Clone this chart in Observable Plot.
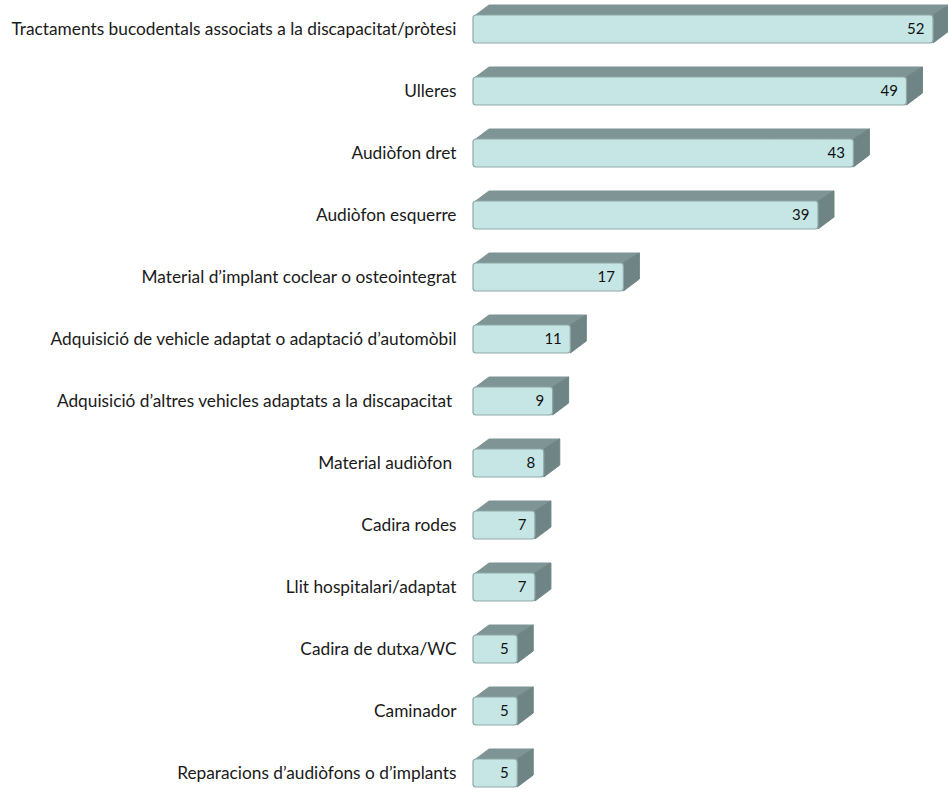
<!DOCTYPE html>
<html>
<head>
<meta charset="utf-8">
<script src="https://cdn.jsdelivr.net/npm/d3@7"></script>
<script src="https://cdn.jsdelivr.net/npm/@observablehq/plot@0.6"></script>
<style>
  html, body { margin: 0; padding: 0; background: #fff; }
  #chart svg { display: block; }
</style>
</head>
<body>
<div id="chart"></div>
<script>
const categories = [
  "Tractaments bucodentals associats a la discapacitat/pròtesi",
  "Ulleres",
  "Audiòfon dret",
  "Audiòfon esquerre",
  "Material d’implant coclear o osteointegrat",
  "Adquisició de vehicle adaptat o adaptació d’automòbil",
  "Adquisició d’altres vehicles adaptats a la discapacitat\u00a0",
  "Material audiòfon\u00a0",
  "Cadira rodes",
  "Llit hospitalari/adaptat",
  "Cadira de dutxa/WC",
  "Caminador",
  "Reparacions d’audiòfons o d’implants"
];
const values = [52, 49, 43, 39, 17, 11, 9, 8, 7, 7, 5, 5, 5];

const data = categories.map((c, i) => ({label: c, value: values[i]}));

const DX = 16, DY = -10;

function depthFaces(index, scales, vals, dimensions, context) {
  const x = scales.x, y = scales.y, bw = y.bandwidth ? y.bandwidth() : 28;
  const g = d3.create("svg:g");
  for (const d of data) {
    const x1 = x(0), x2 = x(d.value), y1 = y(d.label), y2 = y1 + bw;
    g.append("path")
      .attr("d", `M${x1},${y1 + 2}L${x1 + DX},${y1 + DY}L${x2 + DX},${y1 + DY}L${x2},${y1}Z`)
      .attr("fill", "#7f9494").attr("stroke", "#7f9494").attr("stroke-linejoin", "round");
    g.append("path")
      .attr("d", `M${x2},${y1}L${x2 + DX},${y1 + DY}L${x2 + DX},${y2 + DY - 2}L${x2},${y2}Z`)
      .attr("fill", "#6f8585").attr("stroke", "#6f8585").attr("stroke-linejoin", "round");
  }
  return g.node();
}

const chart = Plot.plot({
  width: 948,
  height: 790,
  marginLeft: 473,
  marginRight: 15,
  marginTop: 0,
  marginBottom: 0,
  style: {fontFamily: "Lato", fontSize: "17.3px", color: "#1a1a1a", background: "#fff"},
  x: {domain: [0, 52], axis: null},
  y: {domain: categories, range: [-2, 804], paddingInner: 0.55, paddingOuter: 0.275, label: null, tickSize: 0, tickPadding: 17},
  marks: [
    depthFaces,
    Plot.barX(data, {x: "value", y: "label", fill: "#c6e6e6", stroke: "#8fa8a8", strokeWidth: 1.2, rx: 3}),
    Plot.text(data, {x: "value", y: "label", text: d => String(d.value), textAnchor: "end", dx: -9, fontSize: 15, fill: "#111"})
  ]
});
document.getElementById("chart").appendChild(chart);
</script>
</body>
</html>
